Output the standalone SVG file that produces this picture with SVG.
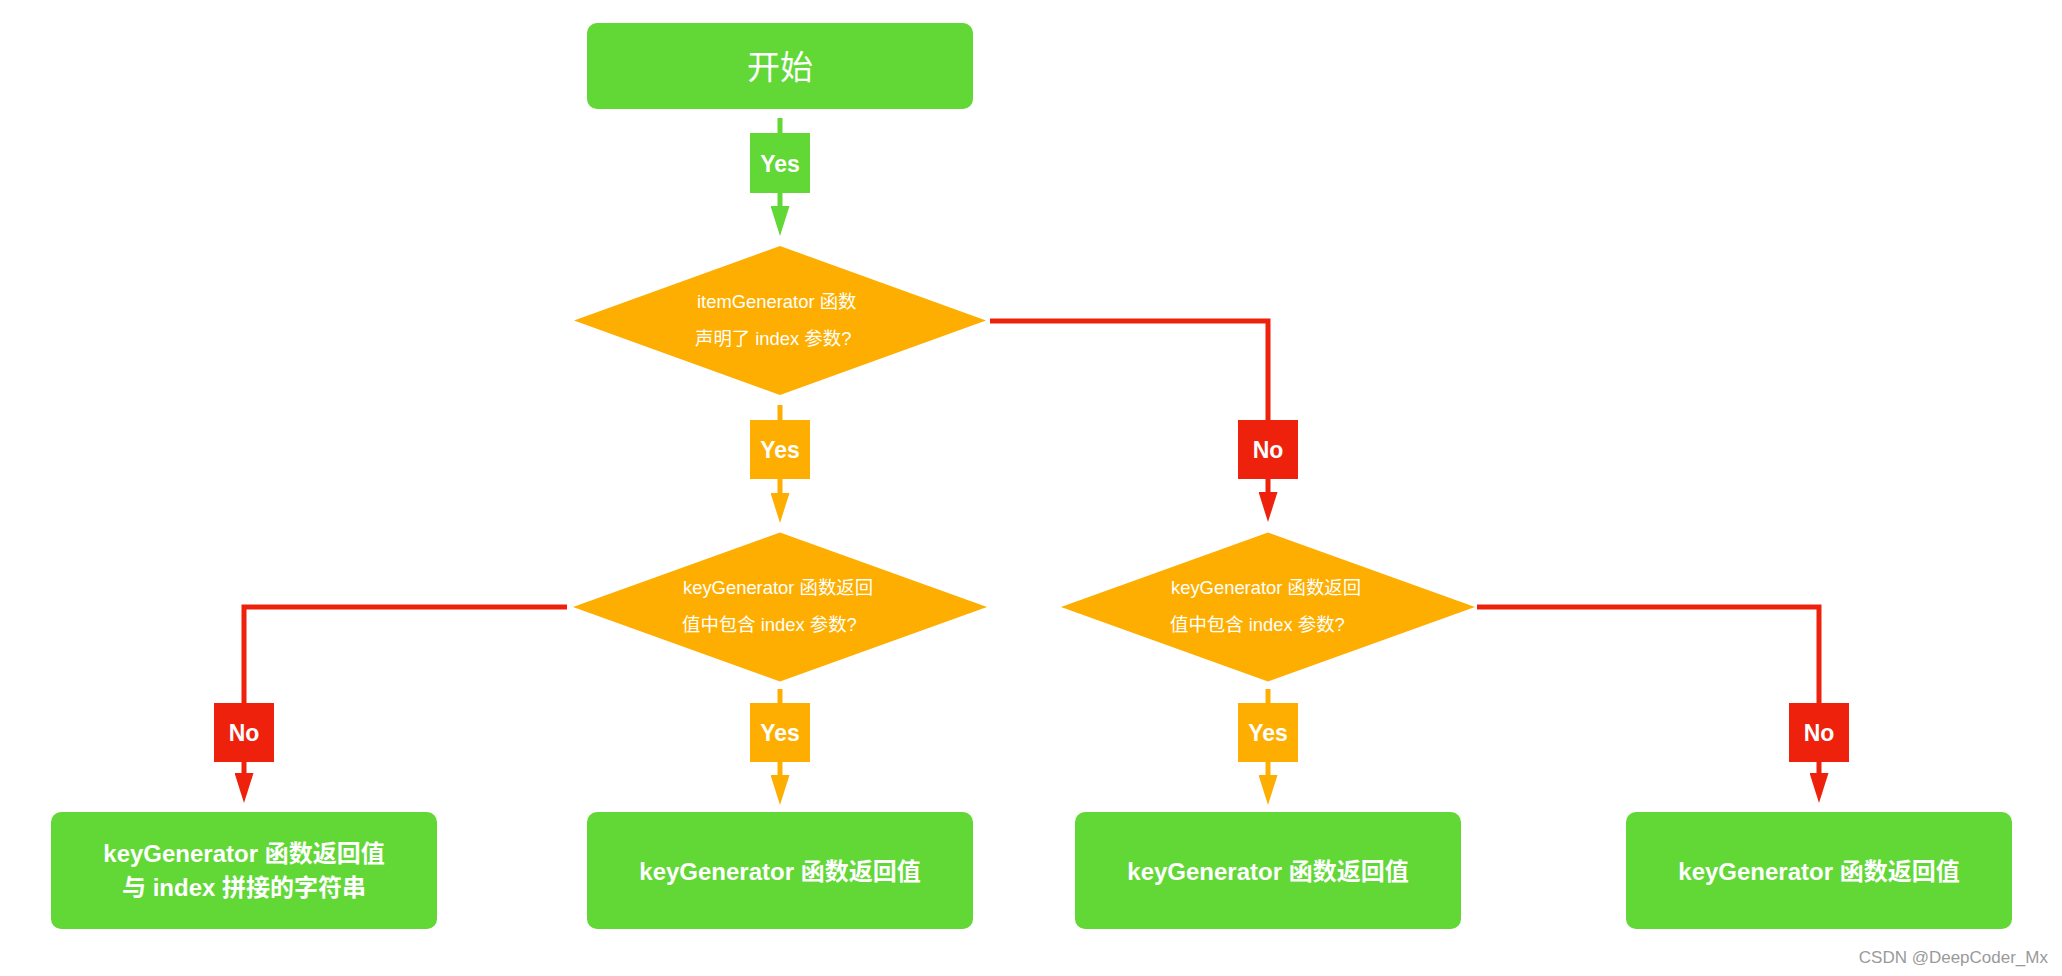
<svg xmlns="http://www.w3.org/2000/svg" width="2062" height="976" viewBox="0 0 2062 976">
  <style>
    text { font-family: "Liberation Sans", "Noto Sans CJK SC", sans-serif; fill: #ffffff; }
    .box { fill: #61D836; }
    .dia { fill: #FEAE00; }
    .q { font-size: 18.4px; }
    .res { font-size: 24px; font-weight: bold; text-anchor: middle; }
    .lbl { font-size: 23px; font-weight: bold; text-anchor: middle; }
    .wire { fill: none; stroke-width: 5; stroke-linejoin: miter; stroke-linecap: butt; }
    .g { stroke: #61D836; }
    .o { stroke: #FEAE00; }
    .r { stroke: #EE220C; }
    .tg { fill: #61D836; }
    .to { fill: #FEAE00; }
    .tr { fill: #EE220C; }
    .mark { font-size: 17px; fill: #9a9a9a; text-anchor: end; }
  </style>
  <defs>
    <marker id="ah-g" viewBox="0 0 30 19" refX="2" refY="9.5" markerWidth="30" markerHeight="19" markerUnits="userSpaceOnUse" orient="auto">
      <path d="M0,0 L30,9.5 L0,19 Z" fill="#61D836"/>
    </marker>
    <marker id="ah-o" viewBox="0 0 30 19" refX="2" refY="9.5" markerWidth="30" markerHeight="19" markerUnits="userSpaceOnUse" orient="auto">
      <path d="M0,0 L30,9.5 L0,19 Z" fill="#FEAE00"/>
    </marker>
    <marker id="ah-r" viewBox="0 0 30 19" refX="2" refY="9.5" markerWidth="30" markerHeight="19" markerUnits="userSpaceOnUse" orient="auto">
      <path d="M0,0 L30,9.5 L0,19 Z" fill="#EE220C"/>
    </marker>
  </defs>

  <!-- connectors with their branch labels -->
  <g id="connectors">
    <path class="wire g" d="M780,118 V208" marker-end="url(#ah-g)"/>
    <rect class="tg" x="750" y="133" width="60" height="60"/>
    <text class="lbl" x="780" y="172">Yes</text>

    <path class="wire o" d="M780,405 V495" marker-end="url(#ah-o)"/>
    <rect class="to" x="750" y="420" width="60" height="59"/>
    <text class="lbl" x="780" y="458">Yes</text>

    <path class="wire r" d="M990,321 H1268 V494" marker-end="url(#ah-r)"/>
    <rect class="tr" x="1238" y="420" width="60" height="59"/>
    <text class="lbl" x="1268" y="458">No</text>

    <path class="wire r" d="M567,607 H244 V775" marker-end="url(#ah-r)"/>
    <rect class="tr" x="214" y="703" width="60" height="59"/>
    <text class="lbl" x="244" y="741">No</text>

    <path class="wire o" d="M780,689 V777" marker-end="url(#ah-o)"/>
    <rect class="to" x="750" y="703" width="60" height="59"/>
    <text class="lbl" x="780" y="741">Yes</text>

    <path class="wire o" d="M1268,689 V777" marker-end="url(#ah-o)"/>
    <rect class="to" x="1238" y="703" width="60" height="59"/>
    <text class="lbl" x="1268" y="741">Yes</text>

    <path class="wire r" d="M1477,607 H1819 V775" marker-end="url(#ah-r)"/>
    <rect class="tr" x="1789" y="703" width="60" height="59"/>
    <text class="lbl" x="1819" y="741">No</text>
  </g>

  <g id="start">
    <rect class="box" x="587" y="23" width="386" height="86" rx="10"/>
    <text x="780" y="78.5" font-size="33" text-anchor="middle">开始</text>
  </g>

  <g id="q-item-index">
    <polygon class="dia" points="780,246 986,320.5 780,395 574,320.5"/>
    <text class="q" x="697" y="308">itemGenerator 函数</text>
    <text class="q" x="695" y="345">声明了 index 参数?</text>
  </g>

  <g id="q-key-index-left">
    <polygon class="dia" points="780,532.5 987,607 780,681.5 573,607"/>
    <text class="q" x="683" y="594">keyGenerator 函数返回</text>
    <text class="q" x="682" y="631">值中包含 index 参数?</text>
  </g>

  <g id="q-key-index-right">
    <polygon class="dia" points="1268,532.5 1475,607 1268,681.5 1061,607"/>
    <text class="q" x="1171" y="594">keyGenerator 函数返回</text>
    <text class="q" x="1170" y="631">值中包含 index 参数?</text>
  </g>

  <g id="result-concat">
    <rect class="box" x="51" y="812" width="386" height="117" rx="10"/>
    <text class="res" x="244" y="862">keyGenerator 函数返回值</text>
    <text class="res" x="244" y="896">与 index 拼接的字符串</text>
  </g>

  <g id="result-a">
    <rect class="box" x="587" y="812" width="386" height="117" rx="10"/>
    <text class="res" x="780" y="880">keyGenerator 函数返回值</text>
  </g>

  <g id="result-b">
    <rect class="box" x="1075" y="812" width="386" height="117" rx="10"/>
    <text class="res" x="1268" y="880">keyGenerator 函数返回值</text>
  </g>

  <g id="result-c">
    <rect class="box" x="1626" y="812" width="386" height="117" rx="10"/>
    <text class="res" x="1819" y="880">keyGenerator 函数返回值</text>
  </g>

  <text class="mark" x="2048" y="963">CSDN @DeepCoder_Mx</text>
</svg>
